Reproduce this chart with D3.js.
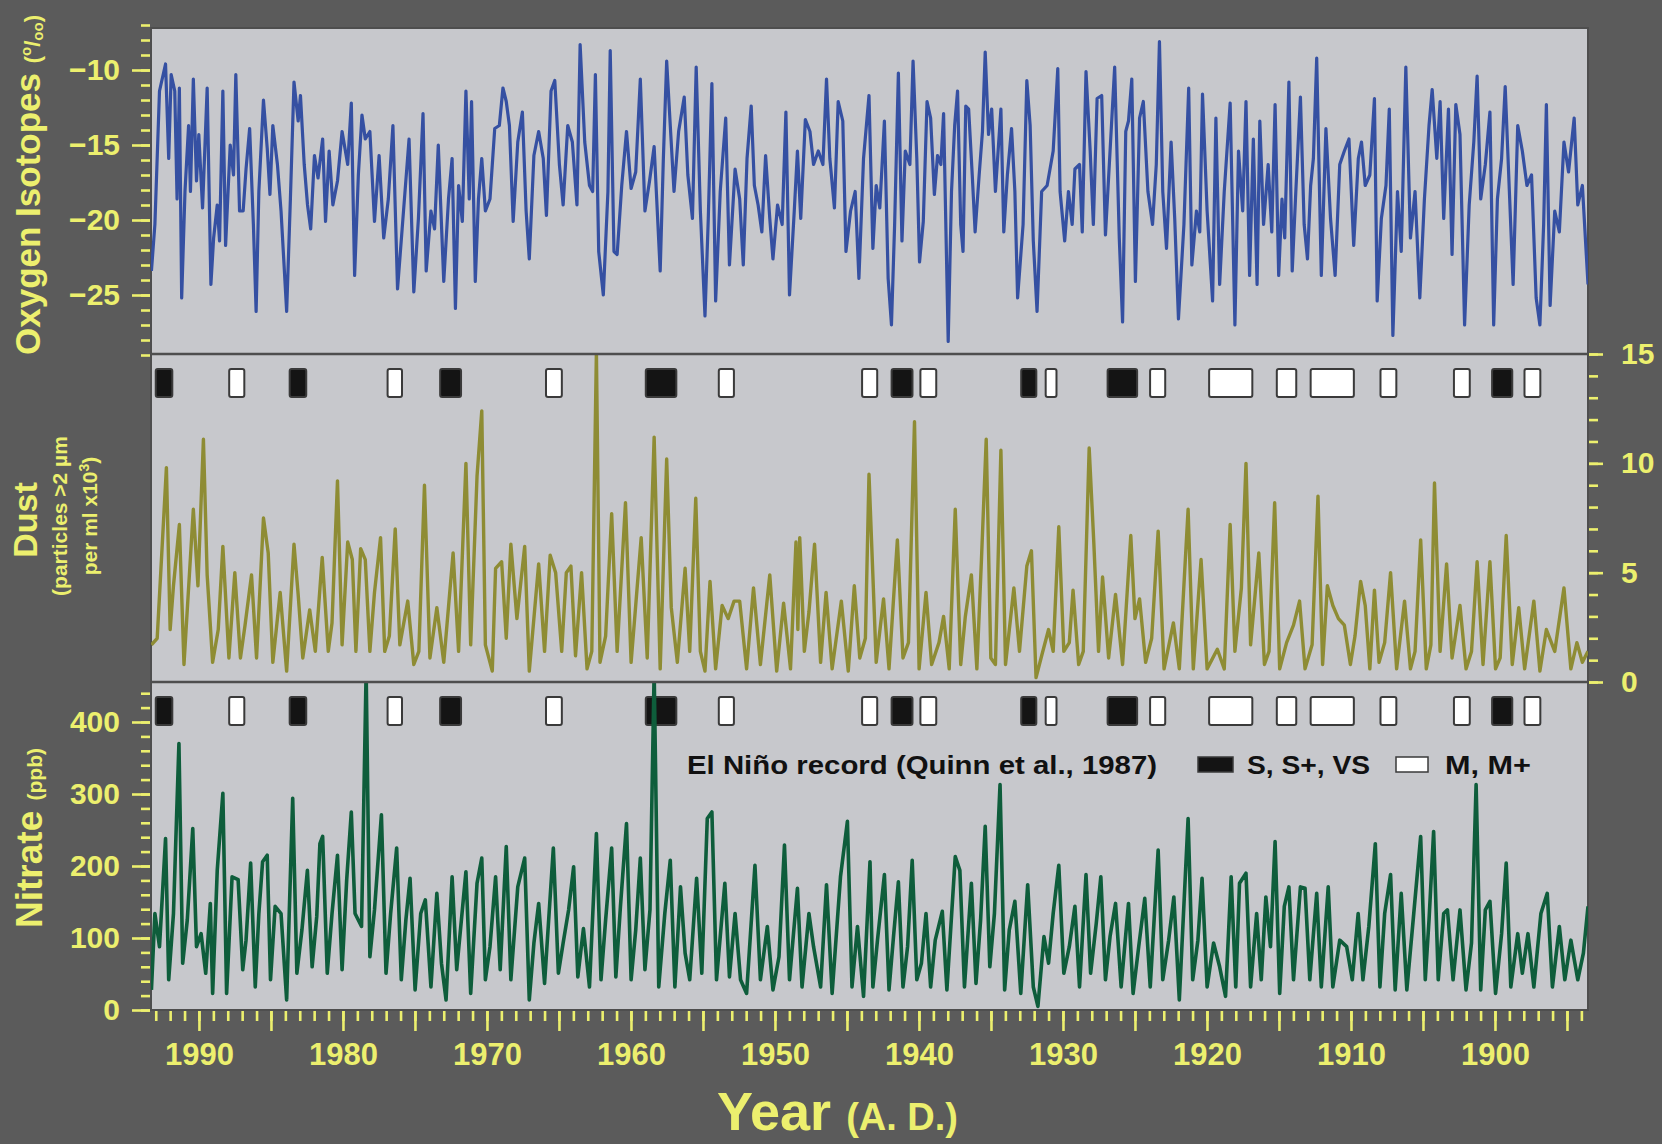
<!DOCTYPE html>
<html>
<head>
<meta charset="utf-8">
<script src="https://cdn.jsdelivr.net/npm/d3@7"></script>
<style>
  body { margin: 0; background: #5b5b5b; }
  svg { display: block; font-family: "Liberation Sans", Arial, sans-serif; font-weight: bold; }
</style>
</head>
<body>
<svg id="chart" width="1662" height="1144"></svg>
<script>
// Quelccaya-style ice core records as [year, value]

const o18 = [
[1993.3,-23.4],[1993.06,-20.3],[1992.74,-11.4],[1992.32,-9.6],[1992.1,-15.9],[1991.93,-10.3],[1991.68,-11.4],[1991.52,-18.6],[1991.36,-11.2],[1991.2,-25.2],
[1990.97,-18.1],[1990.72,-13.7],[1990.59,-18.1],[1990.39,-10.6],[1990.17,-17.4],[1990.01,-14.3],[1989.75,-19.2],[1989.43,-11.2],[1989.17,-24.3],[1988.98,-21.2],
[1988.73,-19.0],[1988.57,-21.4],[1988.34,-11.4],[1988.15,-21.7],[1987.83,-15.0],[1987.6,-17.0],[1987.44,-10.3],[1987.18,-19.4],[1986.93,-19.4],[1986.73,-16.6],
[1986.48,-13.9],[1986.22,-20.3],[1986.03,-26.1],[1985.84,-18.1],[1985.52,-12.0],[1985.26,-15.2],[1985.07,-18.3],[1984.87,-13.7],[1984.55,-16.3],[1984.3,-19.4],
[1983.91,-26.1],[1983.65,-18.6],[1983.4,-10.8],[1983.11,-13.4],[1982.95,-11.7],[1982.69,-16.3],[1982.46,-19.0],[1982.24,-20.6],[1981.98,-15.7],[1981.73,-17.2],
[1981.41,-14.6],[1981.21,-20.1],[1980.96,-15.4],[1980.7,-19.0],[1980.38,-17.4],[1980.06,-14.1],[1979.67,-16.3],[1979.42,-12.2],[1979.19,-23.7],[1978.93,-17.0],
[1978.68,-13.0],[1978.45,-14.6],[1978.13,-14.1],[1977.81,-20.1],[1977.49,-15.7],[1977.17,-21.2],[1976.85,-18.6],[1976.53,-13.7],[1976.21,-24.6],[1975.89,-20.6],
[1975.41,-14.6],[1975.08,-24.8],[1974.76,-19.9],[1974.44,-12.9],[1974.22,-23.4],[1973.89,-19.4],[1973.64,-20.6],[1973.38,-15.0],[1973.0,-24.1],[1972.67,-18.6],
[1972.42,-15.9],[1972.19,-25.9],[1971.97,-17.7],[1971.71,-20.1],[1971.46,-11.4],[1971.23,-18.6],[1971.07,-12.1],[1970.81,-24.1],[1970.59,-18.6],[1970.36,-15.9],
[1970.11,-19.4],[1969.79,-18.6],[1969.46,-13.9],[1969.14,-13.7],[1968.89,-11.2],[1968.66,-12.1],[1968.44,-13.7],[1968.18,-20.1],[1967.86,-14.8],[1967.54,-12.8],
[1967.28,-19.4],[1967.06,-22.6],[1966.74,-15.7],[1966.41,-14.1],[1966.09,-15.9],[1965.87,-19.7],[1965.55,-11.4],[1965.29,-10.7],[1964.97,-16.3],[1964.71,-19.0],
[1964.39,-13.7],[1964.07,-14.8],[1963.75,-19.0],[1963.53,-8.3],[1963.21,-14.8],[1962.88,-17.7],[1962.66,-18.1],[1962.47,-10.3],[1962.24,-22.1],[1961.92,-25.0],
[1961.6,-18.1],[1961.44,-8.7],[1961.18,-22.1],[1960.96,-22.3],[1960.64,-17.7],[1960.31,-14.1],[1959.99,-17.9],[1959.67,-16.8],[1959.35,-10.6],[1959.03,-19.4],
[1958.71,-17.4],[1958.39,-15.1],[1957.97,-23.4],[1957.75,-15.9],[1957.52,-9.4],[1957.27,-13.7],[1957.01,-18.1],[1956.69,-14.1],[1956.3,-11.8],[1956.05,-17.0],
[1955.73,-19.9],[1955.47,-9.8],[1955.18,-19.4],[1954.86,-26.4],[1954.63,-19.9],[1954.38,-10.9],[1954.12,-25.4],[1953.8,-18.1],[1953.42,-13.2],[1953.16,-23.0],
[1952.77,-16.6],[1952.45,-18.6],[1952.2,-23.0],[1951.94,-15.9],[1951.65,-12.4],[1951.43,-17.7],[1951.17,-19.0],[1950.91,-20.8],[1950.65,-15.7],[1950.36,-19.9],
[1950.14,-22.6],[1949.82,-19.0],[1949.5,-20.3],[1949.24,-12.8],[1948.99,-25.0],[1948.66,-19.4],[1948.44,-15.4],[1948.21,-19.9],[1947.89,-13.3],[1947.57,-14.1],
[1947.32,-16.3],[1946.99,-15.4],[1946.67,-16.3],[1946.42,-10.6],[1946.19,-15.9],[1945.87,-19.2],[1945.61,-12.1],[1945.29,-13.4],[1945.07,-22.1],[1944.75,-19.4],
[1944.43,-18.1],[1944.17,-23.9],[1943.85,-15.9],[1943.47,-11.7],
[1943.2,-21.9],[1942.97,-17.7],[1942.72,-19.2],[1942.4,-13.4],[1942.14,-23.9],[1941.91,-27.0],[1941.69,-20.3],[1941.43,-10.2],[1941.18,-21.4],[1940.95,-15.4],
[1940.63,-16.3],[1940.41,-9.4],[1940.15,-15.9],[1939.96,-22.8],[1939.7,-20.1],[1939.44,-12.1],[1939.19,-13.2],[1938.93,-18.3],[1938.71,-15.7],[1938.48,-16.3],
[1938.29,-12.9],[1937.97,-28.1],[1937.74,-18.1],[1937.52,-13.7],[1937.32,-11.4],[1937.1,-20.3],[1936.94,-22.1],[1936.75,-12.4],[1936.55,-12.6],[1936.3,-17.0],
[1936.1,-20.8],[1935.82,-17.0],[1935.59,-14.1],[1935.4,-8.8],[1935.17,-14.3],[1934.95,-12.6],[1934.69,-18.1],[1934.31,-12.6],[1934.11,-20.8],[1933.86,-17.0],
[1933.57,-13.9],[1933.34,-18.1],[1933.15,-25.2],[1932.77,-20.3],[1932.51,-10.7],[1932.28,-13.7],[1932.06,-21.4],[1931.8,-26.1],[1931.48,-18.1],[1931.1,-17.7],
[1930.68,-15.4],[1930.36,-9.9],[1930.2,-18.1],[1929.88,-21.4],[1929.62,-18.1],[1929.36,-20.3],[1929.17,-16.6],[1928.85,-16.3],[1928.66,-20.8],[1928.4,-10.1],
[1928.11,-15.4],[1927.89,-20.3],[1927.63,-11.9],[1927.31,-11.7],[1927.05,-21.0],[1926.73,-15.4],[1926.41,-9.8],[1926.09,-21.2],[1925.86,-26.8],[1925.64,-14.1],
[1925.45,-13.4],[1925.22,-10.6],[1924.97,-24.1],[1924.68,-13.2],[1924.42,-12.1],[1924.1,-18.1],[1923.78,-20.3],[1923.52,-16.3],[1923.3,-8.1],[1923.07,-18.1],
[1922.81,-21.9],[1922.49,-14.8],[1922.24,-19.9],[1921.98,-26.6],[1921.6,-20.3],[1921.27,-11.2],[1921.05,-23.0],[1920.73,-19.4],[1920.5,-20.8],[1920.31,-11.6],
[1919.99,-19.4],[1919.61,-25.4],[1919.38,-13.2],[1919.12,-24.3],[1918.8,-18.1],[1918.39,-12.2],[1918.06,-27.0],[1917.81,-15.4],[1917.52,-19.4],[1917.29,-12.1],
[1917.04,-23.7],[1916.78,-14.6],[1916.52,-24.3],[1916.33,-13.4],[1916.07,-20.3],[1915.75,-16.3],[1915.5,-20.8],[1915.27,-12.3],[1915.02,-23.7],[1914.79,-18.6],
[1914.6,-21.2],[1914.31,-10.8],[1914.08,-23.4],[1913.83,-18.1],[1913.51,-11.8],[1913.25,-20.3],[1913.02,-22.6],[1912.8,-17.7],[1912.61,-15.9],[1912.38,-9.2],
[1912.06,-23.7],[1911.74,-13.9],[1911.42,-19.9],[1911.1,-23.7],[1910.78,-16.3],[1910.46,-15.4],[1910.14,-14.6],[1909.81,-21.7],[1909.49,-15.9],[1909.27,-14.8],
[1909.01,-17.7],[1908.69,-17.0],[1908.37,-11.9],[1908.18,-25.4],[1907.89,-19.9],[1907.57,-17.7],[1907.34,-12.6],[1907.09,-27.7],[1906.77,-18.1],[1906.51,-22.1],
[1906.19,-9.8],[1905.87,-21.2],[1905.55,-18.1],[1905.22,-25.2],[1904.9,-18.6],[1904.58,-13.7],[1904.36,-11.3],[1904.04,-15.9],[1903.81,-12.1],[1903.56,-19.9],
[1903.23,-12.6],[1902.98,-22.3],[1902.72,-12.3],[1902.43,-14.3],[1902.11,-27.0],[1901.79,-19.0],[1901.47,-14.8],[1901.24,-10.4],[1900.99,-18.6],[1900.67,-16.3],
[1900.35,-12.8],[1900.09,-27.0],[1899.83,-18.6],[1899.54,-15.9],[1899.29,-11.1],[1899.0,-18.1],[1898.74,-24.3],[1898.42,-13.7],[1898.1,-15.4],[1897.78,-17.7],
[1897.46,-17.0],[1897.14,-25.2],[1896.88,-27.0],[1896.62,-20.3],[1896.43,-12.3],[1896.17,-25.7],[1895.85,-19.4],[1895.53,-20.8],[1895.21,-14.8],[1894.89,-16.8],
[1894.5,-13.2],[1894.25,-19.0],[1893.93,-17.7],[1893.54,-24.3]
]

const dust = [
[1993.3,1.7],[1992.9,2.0],[1992.26,9.8],[1992.0,2.4],[1991.77,4.4],[1991.36,7.2],[1991.04,0.8],[1990.39,7.9],[1990.07,4.4],[1989.69,11.1],
[1989.43,4.9],[1989.05,0.9],[1988.66,2.4],[1988.34,6.2],[1987.92,1.1],[1987.51,5.0],[1987.12,1.1],[1986.8,2.6],[1986.35,4.9],[1986.0,1.1],
[1985.52,7.5],[1985.19,5.9],[1984.87,0.9],[1984.36,4.1],[1983.91,0.5],[1983.4,6.3],[1983.11,4.0],[1982.79,1.1],[1982.31,3.3],[1981.92,1.4],
[1981.44,5.7],[1981.02,1.4],[1980.76,2.7],[1980.38,9.2],[1980.06,1.7],[1979.67,6.4],[1979.35,5.6],[1979.1,1.4],[1978.77,6.1],[1978.45,5.6],
[1978.13,1.4],[1977.81,4.1],[1977.39,6.6],[1977.1,1.4],[1976.78,2.1],[1976.37,7.0],[1976.05,1.7],[1975.5,3.7],[1975.08,0.8],[1974.73,1.4],
[1974.34,9.0],[1973.96,1.1],[1973.48,3.4],[1973.0,0.9],[1972.35,5.9],[1971.97,1.4],[1971.46,10.0],[1971.13,1.7],[1970.69,9.4],[1970.36,12.4],
[1970.11,1.7],[1969.63,0.5],[1969.4,5.2],[1968.98,5.5],[1968.66,2.0],[1968.34,6.3],[1967.92,2.9],[1967.38,6.2],[1967.06,0.5],[1966.41,5.4],
[1966.0,1.4],[1965.61,5.8],[1965.23,5.0],[1964.81,1.4],[1964.49,5.0],[1964.17,5.3],[1963.85,1.2],[1963.43,5.0],[1963.05,0.6],[1962.72,1.4],
[1962.4,15.1],[1962.15,0.9],[1961.76,2.1],[1961.34,7.7],[1960.96,1.4],[1960.38,8.2],[1959.99,0.9],[1959.67,3.5],[1959.29,6.6],[1958.87,1.1],
[1958.39,11.2],[1957.97,0.6],[1957.52,10.2],[1957.2,3.4],[1956.78,0.9],[1956.24,5.2],[1955.92,1.4],[1955.5,8.4],[1955.18,1.4],[1954.86,0.5],
[1954.51,4.6],[1954.12,0.6],[1953.67,3.5],[1953.25,2.9],[1952.84,3.7],[1952.45,3.7],[1951.97,0.6],[1951.49,4.3],[1951.01,0.8],[1950.36,4.9],
[1949.88,0.5],[1949.4,3.6],[1948.92,0.6],[1948.54,6.4],[1948.41,2.4],[1948.28,6.6],[1947.96,1.4],[1947.64,3.2],[1947.25,6.3],[1946.83,0.9],
[1946.45,4.1],[1946.03,0.6],[1945.39,3.7],[1944.91,0.5],[1944.49,4.4],[1944.11,1.1],[1943.72,2.0],[1943.47,9.5],
[1942.97,0.9],[1942.46,3.8],[1942.08,0.6],[1941.5,6.5],[1941.11,1.1],[1940.73,1.8],[1940.31,11.9],[1939.99,0.6],[1939.51,4.1],[1939.12,0.8],
[1938.61,1.8],[1938.29,3.0],[1937.9,0.6],[1937.48,7.9],[1937.1,0.8],[1936.78,3.0],[1936.36,4.9],[1935.98,0.6],[1935.66,5.6],[1935.33,11.1],
[1935.01,1.1],[1934.69,0.8],[1934.31,10.6],[1933.99,0.8],[1933.41,4.3],[1933.02,1.4],[1932.51,5.3],[1932.19,6.0],[1931.87,0.2],[1931.48,1.2],
[1931.0,2.4],[1930.68,1.4],[1930.29,7.1],[1929.94,1.4],[1929.56,1.8],[1929.3,4.2],[1928.91,0.8],[1928.59,1.4],[1928.18,10.7],[1927.86,6.4],
[1927.53,1.4],[1927.25,4.8],[1926.83,1.1],[1926.35,4.0],[1925.86,0.8],[1925.29,6.7],[1925.0,2.9],[1924.68,3.8],[1924.26,0.9],[1923.84,2.0],
[1923.39,6.9],[1922.98,0.6],[1922.33,2.7],[1921.92,0.6],[1921.31,7.9],[1920.95,0.6],[1920.41,5.6],[1919.99,0.6],[1919.28,1.5],[1918.8,0.6],
[1918.39,7.2],[1918.06,1.4],[1917.61,4.3],[1917.29,10.0],[1916.97,1.7],[1916.4,5.9],[1916.01,0.8],[1915.69,1.4],[1915.3,8.2],[1914.95,0.6],
[1914.47,1.8],[1913.99,2.6],[1913.57,3.7],[1913.19,0.6],[1912.7,1.7],[1912.29,8.5],[1911.97,0.8],[1911.64,4.4],[1911.26,3.5],[1910.87,2.9],
[1910.46,2.6],[1910.04,0.8],[1909.72,2.1],[1909.33,4.6],[1909.01,3.5],[1908.69,0.6],[1908.37,4.2],[1908.05,0.9],[1907.66,1.8],[1907.25,5.0],
[1906.83,0.6],[1906.28,3.7],[1905.87,0.6],[1905.55,1.4],[1905.16,6.5],[1904.77,0.6],[1904.45,1.7],[1904.2,9.1],[1903.81,1.4],[1903.36,5.4],
[1902.98,1.1],[1902.43,3.5],[1902.01,0.6],[1901.63,1.4],[1901.24,5.5],[1900.83,0.8],[1900.35,5.5],[1899.96,0.6],[1899.64,1.1],[1899.22,6.7],
[1898.8,0.8],[1898.35,3.4],[1897.94,0.6],[1897.3,3.7],[1896.88,0.5],[1896.43,2.4],[1895.85,1.4],[1895.21,4.3],[1894.73,0.6],[1894.31,1.8],
[1893.93,0.9],[1893.54,1.4]
]

const nitrate = [
[1993.3,28],[1993.06,134],[1992.74,88],[1992.32,238],[1992.1,42],[1991.77,134],[1991.39,370],[1991.13,65],[1990.81,125],[1990.43,252],
[1990.17,88],[1989.85,106],[1989.53,51],[1989.21,148],[1989.05,23],[1988.73,194],[1988.34,301],[1988.08,23],[1987.7,185],[1987.28,181],
[1986.96,56],[1986.73,97],[1986.41,204],[1986.09,32],[1985.84,134],[1985.58,206],[1985.26,215],[1985.03,42],[1984.71,144],[1984.3,134],
[1983.91,14],[1983.49,294],[1983.2,51],[1982.85,111],[1982.47,194],[1982.14,60],[1981.82,130],[1981.6,231],[1981.41,241],[1981.09,51],
[1980.76,134],[1980.38,215],[1980.06,56],[1979.74,181],[1979.42,275],[1979.16,134],[1978.71,116],[1978.39,470],[1978.13,74],[1977.81,139],
[1977.33,271],[1977.01,51],[1976.69,134],[1976.27,225],[1975.95,42],[1975.63,125],[1975.34,183],[1974.99,28],[1974.6,134],[1974.28,153],
[1973.89,32],[1973.48,162],[1973.16,65],[1972.84,14],[1972.42,185],[1972.1,56],[1971.46,192],[1971.13,23],[1970.69,176],[1970.36,211],
[1970.11,42],[1969.79,88],[1969.4,185],[1969.08,56],[1968.66,227],[1968.34,42],[1967.86,171],[1967.38,211],[1967.06,14],[1966.74,93],
[1966.41,148],[1966.0,37],[1965.39,225],[1965.04,51],[1964.71,93],[1964.33,139],[1963.98,199],[1963.69,46],[1963.3,113],[1962.88,32],
[1962.4,245],[1962.08,42],[1961.76,125],[1961.34,225],[1961.05,46],[1960.73,144],[1960.31,259],[1959.99,42],[1959.67,111],[1959.35,211],
[1959.03,56],[1958.68,139],[1958.39,470],[1958.07,32],[1957.65,134],[1957.27,208],[1956.95,32],[1956.56,171],[1956.24,79],[1955.92,42],
[1955.44,183],[1955.08,51],[1954.7,266],[1954.38,275],[1954.06,42],[1953.48,176],[1953.16,46],[1952.77,134],[1952.39,42],[1951.97,23],
[1951.39,201],[1951.01,42],[1950.53,116],[1950.14,28],[1949.72,74],[1949.34,229],[1948.99,42],[1948.44,169],[1948.12,32],[1947.64,134],
[1947.32,88],[1946.83,32],[1946.42,174],[1946.03,23],[1945.45,185],[1944.97,262],[1944.65,32],[1944.27,116],[1943.85,19],[1943.4,206],
[1943.2,32],[1942.88,97],[1942.4,188],[1942.08,28],[1941.75,106],[1941.43,178],[1941.11,32],[1940.79,88],[1940.47,208],[1940.15,42],
[1939.83,65],[1939.51,134],[1939.19,32],[1938.87,97],[1938.38,137],[1938.06,28],[1937.48,213],[1937.16,194],[1936.84,32],[1936.36,176],
[1936.04,37],[1935.72,125],[1935.4,255],[1935.08,60],[1934.76,134],[1934.37,313],[1934.05,28],[1933.73,111],[1933.34,151],[1932.93,23],
[1932.45,174],[1932.06,32],[1931.74,5],[1931.32,102],[1931.0,65],[1930.68,134],[1930.29,201],[1929.94,51],[1929.56,88],[1929.17,144],
[1928.85,32],[1928.4,188],[1928.08,51],[1927.69,120],[1927.37,185],[1927.05,42],[1926.73,102],[1926.35,148],[1925.96,32],[1925.45,148],
[1925.13,23],[1924.74,88],[1924.32,155],[1923.94,32],[1923.39,222],[1923.07,42],[1922.66,97],[1922.3,157],[1921.92,14],[1921.31,266],
[1920.99,42],[1920.63,97],[1920.34,183],[1919.99,32],[1919.54,93],[1919.12,60],[1918.71,19],[1918.32,185],[1918.0,32],[1917.74,176],
[1917.29,190],[1916.97,32],[1916.55,134],[1916.23,42],[1915.91,157],[1915.59,88],[1915.27,234],[1914.95,23],[1914.63,144],[1914.31,171],
[1913.99,42],[1913.51,171],[1913.19,169],[1912.86,42],[1912.38,162],[1912.06,32],[1911.58,171],[1911.26,32],[1910.78,97],[1910.3,88],
[1909.91,42],[1909.5,134],[1909.17,42],[1908.76,116],[1908.31,231],[1907.99,32],[1907.66,134],[1907.25,188],[1906.93,28],[1906.51,162],
[1906.12,28],[1905.64,134],[1905.16,241],[1904.84,42],[1904.58,125],[1904.26,248],[1903.94,42],[1903.56,134],[1903.3,139],[1902.91,42],
[1902.43,139],[1902.01,28],[1901.63,93],[1901.31,313],[1900.99,28],[1900.67,139],[1900.35,151],[1899.96,23],[1899.54,106],[1899.22,204],
[1898.9,32],[1898.42,106],[1898.1,51],[1897.71,106],[1897.3,32],[1896.81,134],[1896.37,162],[1896.01,32],[1895.53,116],[1895.15,42],
[1894.73,97],[1894.25,42],[1893.86,79],[1893.54,144]
]

// El Nino events (Quinn et al., 1987): start year, end year, class
const ensoStart = [1993.0,1987.9,1983.7,1976.9,1973.25,1965.9,1958.97,1953.9,1943.95,1941.9,1939.9,1932.9,1931.2,1926.9,1923.95,1919.85,1915.15,1912.8,1907.95,1902.85,1900.2,1897.95]
const ensoEnd   = [1991.85,1986.85,1982.55,1975.9,1971.8,1964.8,1956.85,1952.85,1942.9,1940.45,1938.8,1931.85,1930.45,1924.85,1922.9,1916.85,1913.8,1909.8,1906.85,1901.75,1898.8,1896.85]
const ensoClass = ['S','M','S','M','S','M','S','M','M','S','M','S','M','S','M','M','M','M','M','M','S','M']

const yearLabels = [1990,1980,1970,1960,1950,1940,1930,1920,1910,1900]
const o18Labels = [-25,-20,-15,-10]
const dustLabels = [0,5,10,15]
const nitrateLabels = [0,100,200,300,400]

// ---------- layout ----------
const yellow = '#ecef6e'
const left = 151, right = 1588
const p1 = [28, 354], p2 = [354, 682], p3 = [682, 1010]

const svg = d3.select('#chart')

const x = d3.scaleLinear().domain([1993.33, 1893.54]).range([left, right])
const yO = d3.scaleLinear().domain([-29, -7]).range([355, 25])
const yD = d3.scaleLinear().domain([0, 15]).range([p2[1], p2[0]])
const yN = d3.scaleLinear().domain([0, 400]).range([p3[1], 722])

// plot background + frame
svg.append('rect').attr('x', left).attr('y', p1[0]).attr('width', right - left).attr('height', p3[1] - p1[0])
  .attr('fill', '#c7c8cc').attr('stroke', '#4e4e4e').attr('stroke-width', 2)

;[p1, p2, p3].forEach((p, i) => {
  svg.append('clipPath').attr('id', 'clip' + i)
    .append('rect').attr('x', left).attr('y', p[0]).attr('width', right - left).attr('height', p[1] - p[0])
})

// El Nino boxes in panels 2 and 3
const enso = ensoStart.map((s, i) => ({ s: s, e: ensoEnd[i], c: ensoClass[i] }))
;[p2, p3].forEach(p => {
  svg.append('g').selectAll('rect').data(enso).enter().append('rect')
    .attr('x', d => x(d.s))
    .attr('y', p[0] + 15)
    .attr('width', d => x(d.e) - x(d.s))
    .attr('height', 28)
    .attr('rx', 2)
    .attr('fill', d => d.c === 'S' ? '#141414' : '#ffffff')
    .attr('stroke', '#3a3a3a')
    .attr('stroke-width', 2)
})

// series
function drawSeries(data, y, color, clip, w) {
  const line = d3.line().x(d => x(d[0])).y(d => y(d[1]))
  svg.append('path').datum(data)
    .attr('clip-path', 'url(#' + clip + ')')
    .attr('fill', 'none')
    .attr('stroke', color)
    .attr('stroke-width', w)
    .attr('stroke-linejoin', 'round')
    .attr('d', line)
}
drawSeries(o18, yO, '#3550a2', 'clip0', 3.2)
drawSeries(dust, yD, '#8e8c34', 'clip1', 3.4)
drawSeries(nitrate, yN, '#0e5d3b', 'clip2', 3.6)

// panel separators
;[p1[1], p2[1]].forEach(yy => {
  svg.append('line').attr('x1', left).attr('x2', right).attr('y1', yy).attr('y2', yy)
    .attr('stroke', '#4e4e4e').attr('stroke-width', 2.5)
})

// ---------- axes ----------
function styleAxis(g, size) {
  g.select('.domain').remove()
  g.selectAll('line').attr('stroke', yellow).attr('stroke-width', 2.6)
  g.selectAll('text').attr('fill', yellow).style('font-size', size + 'px').style('font-weight', 'bold')
    .style('font-family', '"Liberation Sans", Arial, sans-serif')
}

// oxygen (left)
svg.append('g').attr('transform', `translate(${left - 1},0)`)
  .call(d3.axisLeft(yO).tickValues(d3.range(-29, -6)).tickSize(9).tickFormat(''))
  .call(g => styleAxis(g, 30))
svg.append('g').attr('transform', `translate(${left - 1},0)`)
  .call(d3.axisLeft(yO).tickValues(o18Labels).tickSize(18).tickPadding(12))
  .call(g => styleAxis(g, 30))

// dust (right)
svg.append('g').attr('transform', `translate(${right + 1},0)`)
  .call(d3.axisRight(yD).tickValues(d3.range(0, 16)).tickSize(9).tickFormat(''))
  .call(g => styleAxis(g, 30))
svg.append('g').attr('transform', `translate(${right + 1},0)`)
  .call(d3.axisRight(yD).tickValues(dustLabels).tickSize(14).tickPadding(18))
  .call(g => styleAxis(g, 30))

// nitrate (left)
svg.append('g').attr('transform', `translate(${left - 1},0)`)
  .call(d3.axisLeft(yN).tickValues(d3.range(0, 460, 20)).tickSize(9).tickFormat(''))
  .call(g => styleAxis(g, 30))
svg.append('g').attr('transform', `translate(${left - 1},0)`)
  .call(d3.axisLeft(yN).tickValues(nitrateLabels).tickSize(18).tickPadding(12))
  .call(g => styleAxis(g, 30))

// years (bottom)
svg.append('g').attr('transform', `translate(0,${p3[1] + 1})`)
  .call(d3.axisBottom(x).tickValues(d3.range(1894, 1994)).tickSize(10).tickFormat(''))
  .call(g => styleAxis(g, 30))
svg.append('g').attr('transform', `translate(0,${p3[1] + 1})`)
  .call(d3.axisBottom(x).tickValues(d3.range(1895, 1994, 5)).tickSize(20).tickPadding(12)
    .tickFormat(d => yearLabels.includes(d) ? d : ''))
  .call(g => styleAxis(g, 31))

// ---------- titles ----------
const oxy = svg.append('text').attr('transform', 'translate(40,185) rotate(-90)')
  .attr('text-anchor', 'middle').attr('fill', yellow)
oxy.append('tspan').style('font-size', '35px').text('Oxygen Isotopes ')
oxy.append('tspan').style('font-size', '22px').text('(')
oxy.append('tspan').style('font-size', '15px').attr('dy', -9).text('o')
oxy.append('tspan').style('font-size', '22px').attr('dy', 9).text('/')
oxy.append('tspan').style('font-size', '15px').attr('dy', 3).text('oo')
oxy.append('tspan').style('font-size', '22px').attr('dy', -3).text(')')

svg.append('text').attr('transform', 'translate(37,520) rotate(-90)')
  .attr('text-anchor', 'middle').attr('fill', yellow).style('font-size', '34px').text('Dust')
svg.append('text').attr('transform', 'translate(67,516) rotate(-90)')
  .attr('text-anchor', 'middle').attr('fill', yellow).style('font-size', '21px').text('(particles >2 µm')
const dl = svg.append('text').attr('transform', 'translate(97,516) rotate(-90)')
  .attr('text-anchor', 'middle').attr('fill', yellow).style('font-size', '21px')
dl.append('tspan').text('per ml x10')
dl.append('tspan').style('font-size', '14px').attr('dy', -8).text('3')
dl.append('tspan').attr('dy', 8).text(')')

const nit = svg.append('text').attr('transform', 'translate(42,838) rotate(-90)')
  .attr('text-anchor', 'middle').attr('fill', yellow)
nit.append('tspan').style('font-size', '37px').text('Nitrate ')
nit.append('tspan').style('font-size', '21px').text('(ppb)')

const yt = svg.append('text').attr('x', 717).attr('y', 1130).attr('fill', yellow)
yt.append('tspan').style('font-size', '54px').text('Year ')
yt.append('tspan').style('font-size', '38px').text('(A. D.)')

// ---------- legend ----------
const lg = svg.append('g').style('font-size', '25px').attr('fill', '#111')
lg.append('text').attr('x', 687).attr('y', 774)
  .attr('textLength', 470).attr('lengthAdjust', 'spacingAndGlyphs')
  .text('El Niño record (Quinn et al., 1987)')
lg.append('rect').attr('x', 1198).attr('y', 757).attr('width', 35).attr('height', 15)
  .attr('fill', '#141414').attr('stroke', '#3a3a3a').attr('stroke-width', 1.5)
lg.append('text').attr('x', 1247).attr('y', 774)
  .attr('textLength', 123).attr('lengthAdjust', 'spacingAndGlyphs').text('S, S+, VS')
lg.append('rect').attr('x', 1396).attr('y', 757).attr('width', 32).attr('height', 15)
  .attr('fill', '#ffffff').attr('stroke', '#3a3a3a').attr('stroke-width', 1.5)
lg.append('text').attr('x', 1445).attr('y', 774)
  .attr('textLength', 86).attr('lengthAdjust', 'spacingAndGlyphs').text('M, M+')
</script>
</body>
</html>
